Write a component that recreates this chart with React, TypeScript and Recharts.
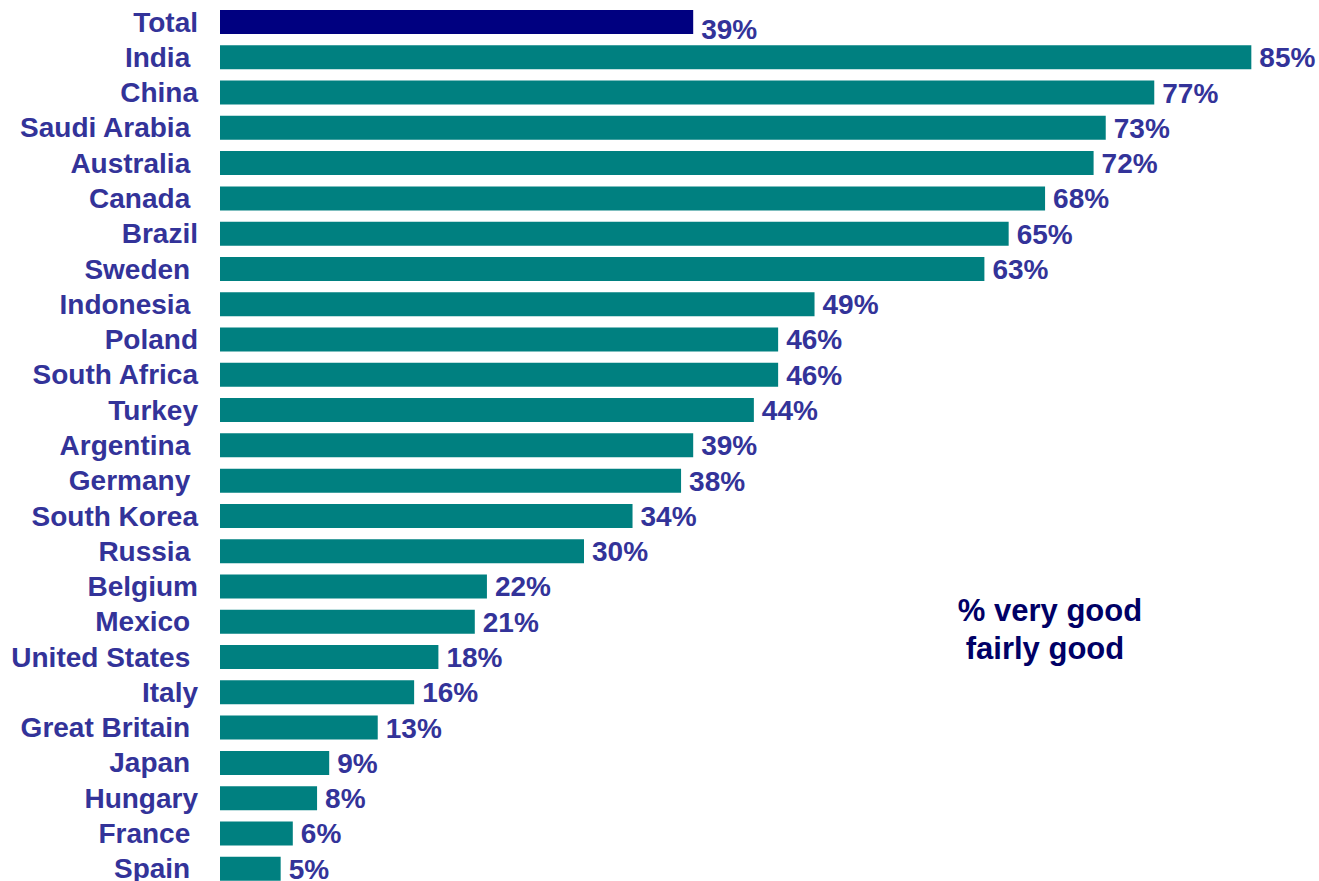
import React from 'react';
import { BarChart, Bar, XAxis, YAxis, Cell, LabelList } from 'recharts';

const categories = [
  'Total', 'India ', 'China', 'Saudi Arabia ', 'Australia ', 'Canada ', 'Brazil', 'Sweden ',
  'Indonesia ', 'Poland', 'South Africa', 'Turkey', 'Argentina ', 'Germany ', 'South Korea',
  'Russia ', 'Belgium', 'Mexico ', 'United States ', 'Italy', 'Great Britain ', 'Japan ',
  'Hungary', 'France ', 'Spain ',
];
const values = [39, 85, 77, 73, 72, 68, 65, 63, 49, 46, 46, 44, 39, 38, 34, 30, 22, 21, 18, 16, 13, 9, 8, 6, 5];
const annotationLines = ['% very good', 'fairly good'];

const data = categories.map((c, i) => ({ name: c, value: values[i] }));

const FONT = '"Liberation Sans", Arial, Helvetica, sans-serif';
const LABEL_COLOR = '#333399';

const CategoryTick = (props: any) => {
  const { x, y, payload } = props;
  return (
    <text
      x={x}
      y={y}
      dy="0.355em"
      textAnchor="end"
      xmlSpace="preserve"
      style={{ whiteSpace: 'pre' }}
      fill={LABEL_COLOR}
      fontFamily={FONT}
      fontWeight="bold"
      fontSize={28}
    >
      {payload.value}
    </text>
  );
};

const ValueLabel = (props: any) => {
  const { x, y, width, height, value, index } = props;
  const shift = index === 0 ? 7 : 0;
  return (
    <text
      x={x + width + 8}
      y={y + height / 2 + shift}
      dy="0.355em"
      textAnchor="start"
      fill={LABEL_COLOR}
      fontFamily={FONT}
      fontWeight="bold"
      fontSize={28}
    >
      {value}%
    </text>
  );
};

export default function App() {
  return (
    <div style={{ position: 'absolute', left: 0, top: 0, width: 1319, height: 886 }}>
      <BarChart
        width={1319}
        height={886}
        data={data}
        layout="vertical"
        margin={{ top: 4, right: 7, bottom: 0, left: 0 }}
        barCategoryGap={11}
      >
        <XAxis type="number" domain={[0, 90]} hide />
        <YAxis
          type="category"
          dataKey="name"
          width={220}
          axisLine={false}
          tickLine={false}
          tickSize={0}
          tickMargin={22}
          interval={0}
          tick={<CategoryTick />}
        />
        <Bar dataKey="value" barSize={24} isAnimationActive={false}>
          {data.map((d, i) => (
            <Cell key={i} fill={i === 0 ? '#000080' : '#008080'} />
          ))}
          <LabelList dataKey="value" content={<ValueLabel />} />
        </Bar>
      </BarChart>
      <svg
        width={1319}
        height={886}
        style={{ position: 'absolute', left: 0, top: 0, pointerEvents: 'none' }}
      >
        <text x={1050} y={621} textAnchor="middle" fill="#000066" fontFamily={FONT} fontWeight="bold" fontSize={31}>
          {annotationLines[0]}
        </text>
        <text x={1045} y={659} textAnchor="middle" fill="#000066" fontFamily={FONT} fontWeight="bold" fontSize={31}>
          {annotationLines[1]}
        </text>
      </svg>
    </div>
  );
}
